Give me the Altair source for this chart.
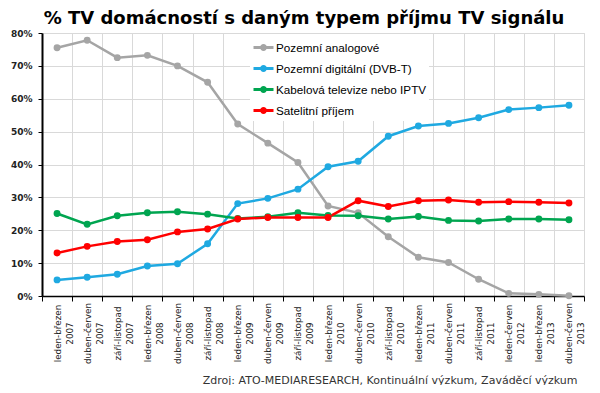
import altair as alt
import pandas as pd

categories = [
    "leden-březen 2007", "duben-červen 2007", "září-listopad 2007",
    "leden-březen 2008", "duben-červen 2008", "září-listopad 2008",
    "leden-březen 2009", "duben-červen 2009", "září-listopad 2009",
    "leden-březen 2010", "duben-červen 2010", "září-listopad 2010",
    "leden-březen 2011", "duben-červen 2011", "září-listopad 2011",
    "leden-červen 2012", "leden-březen 2013", "duben-červen 2013",
]
series_names = [
    "Pozemní analogové",
    "Pozemní digitální (DVB-T)",
    "Kabelová televize nebo IPTV",
    "Satelitní příjem",
]
analog = [75.5, 77.8, 72.5, 73.2, 70.0, 65.0, 52.3, 46.5, 40.6, 27.4, 25.3, 18.0, 11.8, 10.2, 5.1, 0.8, 0.5, 0.1]
dvbt = [4.9, 5.7, 6.6, 9.1, 9.8, 15.9, 28.1, 29.7, 32.5, 39.3, 41.0, 48.6, 51.7, 52.5, 54.2, 56.7, 57.3, 58.0]
cable = [25.1, 21.8, 24.4, 25.3, 25.6, 24.9, 23.6, 24.1, 25.3, 24.5, 24.4, 23.4, 24.2, 23.0, 22.8, 23.4, 23.4, 23.2]
sat = [13.1, 15.1, 16.6, 17.1, 19.5, 20.4, 23.4, 23.9, 23.9, 23.9, 29.0, 27.2, 29.0, 29.2, 28.5, 28.7, 28.5, 28.3]
colors = ["#A5A5A5", "#1FA9E1", "#00A550", "#FF0000"]
source_text = "Zdroj: ATO-MEDIARESEARCH, Kontinuální výzkum, Zaváděcí výzkum"
title_text = "% TV domácností s daným typem příjmu TV signálu"

rows = []
for name, vals in zip(series_names, [analog, dvbt, cable, sat]):
    for cat, v in zip(categories, vals):
        rows.append({"period": cat, "series": name, "value": v / 100.0})
df = pd.DataFrame(rows)

x_enc = alt.X(
    "period:N",
    sort=categories,
    bandPosition=0.5,
    scale=alt.Scale(type="band", paddingInner=0, paddingOuter=0),
    axis=alt.Axis(
        tickBand="extent",
        grid=True,
        gridColor="#D9D9D9",
        domainColor="black",
        domainWidth=1.5,
        tickColor="black",
        tickSize=5,
        labelAngle=270,
        labelAlign="center",
        labelBaseline="middle",
        labelPadding=32,
        labelExpr="split(datum.label, ' ')",
        labelFont="DejaVu Sans",
        labelFontSize=8.8,
        labelLineHeight=12,
        labelColor="#222222",
        labelOverlap=False,
        title=source_text,
        titleX=535,
        titleY=87,
        titleAlign="right",
        titleBaseline="alphabetic",
        titleFont="DejaVu Sans",
        titleFontSize=11,
        titleFontWeight="normal",
        titleColor="#333333",
    ),
)
y_enc = alt.Y(
    "value:Q",
    scale=alt.Scale(domain=[0, 0.8]),
    axis=alt.Axis(
        values=[0, 0.1, 0.2, 0.3, 0.4, 0.5, 0.6, 0.7, 0.8],
        format=".0%",
        grid=True,
        gridColor="#D9D9D9",
        domainColor="black",
        domainWidth=2,
        tickColor="black",
        tickSize=4,
        labelFont="DejaVu Sans",
        labelFontWeight="bold",
        labelFontSize=9,
        labelPadding=6,
        labelColor="#222222",
        title=None,
    ),
)
color_scale = alt.Scale(domain=series_names, range=colors)

lines = alt.Chart(df).mark_line(strokeWidth=2.5).encode(
    x=x_enc,
    y=y_enc,
    color=alt.Color(
        "series:N",
        scale=color_scale,
        legend=alt.Legend(
            title=None,
            orient="none",
            legendX=208,
            legendY=1,
            symbolType="M-1,0H1M-0.2,0a0.2,0.2 0 1,0 0.4,0a0.2,0.2 0 1,0 -0.4,0",
            symbolSize=400,
            symbolStrokeWidth=2.8,
            labelFont="Liberation Sans",
            labelFontSize=11.7,
            labelColor="black",
            labelOffset=1,
            labelLimit=400,
            rowPadding=1,
            fillColor="white",
            padding=2,
        ),
    ),
    detail="series:N",
)

points = alt.Chart(df).mark_circle(size=48, opacity=1).encode(
    x=x_enc,
    y=y_enc,
    color=alt.Color("series:N", scale=color_scale, legend=None),
)

chart = (
    alt.layer(lines, points)
    .properties(
        width=542,
        height=263,
        autosize="none",
        padding={"left": 34, "top": 25, "right": 8, "bottom": 89},
        title=alt.Title(
            title_text,
            font="DejaVu Sans",
            fontSize=18,
            fontWeight="bold",
            anchor="middle",
            frame="group",
            dx=-9,
            dy=24,
            offset=11,
            baseline="alphabetic",
            color="black",
        ),
    )
    .configure_view(stroke=None)
    .configure(background="white")
)

chart.save("out.html", embed_options={"renderer": "svg", "actions": False})
